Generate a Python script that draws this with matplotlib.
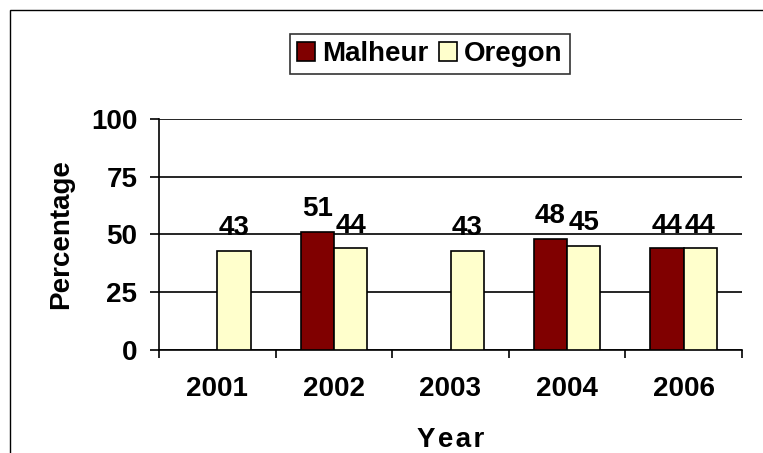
import numpy as np
import matplotlib
matplotlib.use("Agg")
import matplotlib.pyplot as plt
from matplotlib.patches import Rectangle

# data
years = ["2001", "2002", "2003", "2004", "2006"]
malheur = [np.nan, 51, np.nan, 48, 44]
oregon = [43, 44, 43, 45, 44]

plt.rcParams["font.family"] = ["Liberation Sans", "DejaVu Sans"]
plt.rcParams["font.weight"] = "bold"
FS = 20

fig = plt.figure(figsize=(7.63, 4.53), dpi=100)
ax = fig.add_axes([159 / 763, 1 - 350 / 453, 583 / 763, 231 / 453])

# outer frame of the chart area
fig.patches.append(Rectangle((10 / 763, -0.1), 1.2, 1.1 - 10 / 453, transform=fig.transFigure,
                             fill=False, edgecolor="black", linewidth=1.0, clip_on=False))

x = np.arange(len(years))
w = 0.285
b1 = ax.bar(x - w / 2, malheur, w, color="#800000", edgecolor="black", linewidth=1.2,
            label="Malheur", zorder=3)
b2 = ax.bar(x + w / 2, oregon, w, color="#FFFFCC", edgecolor="black", linewidth=1.2,
            label="Oregon", zorder=3)

for bars, vals in [(b1, malheur), (b2, oregon)]:
    for rect, v in zip(bars, vals):
        if np.isnan(v):
            continue
        ax.annotate(str(int(v)), (rect.get_x() + rect.get_width() / 2, v),
                    xytext=(0, 7), textcoords="offset points",
                    ha="center", va="bottom", fontsize=FS, fontweight="bold")

ax.set_xlim(-0.5, len(years) - 0.5)
ax.set_ylim(0, 100)
ax.set_yticks([0, 25, 50, 75, 100])
ax.yaxis.grid(True, color="black", linewidth=1.2, zorder=0)
ax.set_axisbelow(True)

ax.set_xticks(x)
ax.set_xticklabels(years)
ax.set_xticks(np.arange(len(years) + 1) - 0.5, minor=True)
ax.tick_params(axis="x", which="major", length=0, pad=19, labelsize=FS)
ax.tick_params(axis="x", which="minor", length=6, width=1.2, direction="out")
ax.tick_params(axis="y", length=6.5, width=1.2, direction="out", pad=9, labelsize=FS)

for s in ["top", "right"]:
    ax.spines[s].set_visible(False)
ax.spines["left"].set_linewidth(1.2)
ax.spines["bottom"].set_linewidth(1.2)

ax.set_ylabel("Percentage", fontsize=FS, fontweight="bold", labelpad=12)
ax.set_xlabel("Y\u200ae\u200aa\u200ar", fontsize=FS, fontweight="bold", labelpad=18)

leg = ax.legend(loc="center", bbox_to_anchor=((430 - 159) / 583, (350 - 54) / 231),
                ncol=2, frameon=True, fancybox=False, edgecolor="black",
                fontsize=FS, handlelength=0.65, handleheight=0.65, handletextpad=0.25,
                columnspacing=0.4, borderpad=0.25, borderaxespad=0)
leg.get_frame().set_linewidth(1.2)
for t in leg.get_texts():
    t.set_fontweight("bold")

fig.savefig("out.png", dpi=100)
